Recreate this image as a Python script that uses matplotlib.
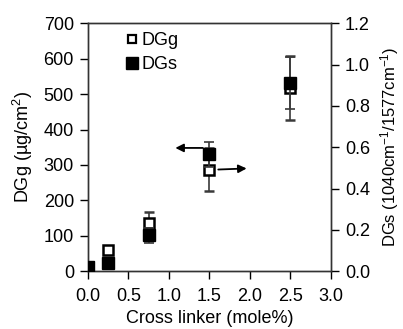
import matplotlib
matplotlib.use("Agg")
import matplotlib.pyplot as plt
from matplotlib.lines import Line2D

plt.rcParams['font.family'] = ['Liberation Sans', 'DejaVu Sans']
plt.rcParams['mathtext.fontset'] = 'custom'
plt.rcParams['mathtext.rm'] = 'Liberation Sans'
plt.rcParams['mathtext.it'] = 'Liberation Sans'

cross_linker = [0.0, 0.25, 0.75, 1.5, 2.5]
dgg = [12, 61, 136, 287, 517]
dgg_err = [0, 0, 31, 62, 91]
dgs = [0.021, 0.037, 0.173, 0.566, 0.912]
dgs_err = [0, 0, 0.036, 0.06, 0.125]

fig = plt.figure(figsize=(4.03, 3.29), dpi=100)
ax1 = fig.add_axes([0.218, 0.176, 0.603, 0.753])
ax2 = ax1.twinx()

ecol = '#3a3a3a'
ax1.errorbar(cross_linker, dgg, yerr=dgg_err, fmt='s', ms=7, mfc='white', mec='black',
             mew=1.8, ecolor=ecol, elinewidth=1.2, capsize=3.5, capthick=1.2, zorder=3)
ax2.errorbar(cross_linker, dgs, yerr=dgs_err, fmt='s', ms=8, mfc='black', mec='black',
             ecolor=ecol, elinewidth=1.2, capsize=3.5, capthick=1.2, zorder=3)

ax1.set_xlim(0, 3.0)
ax1.set_ylim(0, 700)
ax2.set_ylim(0, 1.2)
ax1.set_xticks([0, 0.5, 1.0, 1.5, 2.0, 2.5, 3.0])
ax1.set_xticklabels(['0.0', '0.5', '1.0', '1.5', '2.0', '2.5', '3.0'])
ax1.set_yticks(range(0, 701, 100))
ax2.set_yticks([0, 0.2, 0.4, 0.6, 0.8, 1.0, 1.2])
ax2.set_yticklabels(['0.0', '0.2', '0.4', '0.6', '0.8', '1.0', '1.2'])

for ax in (ax1, ax2):
    ax.tick_params(direction='out', length=6, width=1, labelsize=13, colors='black', pad=4)
    for s in ax.spines.values():
        s.set_linewidth(1.0)
        s.set_color('#333333')
ax1.tick_params(axis='x', pad=6)

ax1.set_xlabel('Cross linker (mole%)', fontsize=13, labelpad=4)
ax1.set_ylabel('DGg (µg/cm$^2$)', fontsize=13, labelpad=6)
ax2.set_ylabel('DGs (1040cm$^{-1}$/1577cm$^{-1}$)', fontsize=12, labelpad=6)

# arrows indicating axes
ax1.annotate('', xy=(1.08, 348), xytext=(1.42, 348),
             arrowprops=dict(arrowstyle='-|>', color='black', lw=1.3, mutation_scale=12,
                             shrinkA=0, shrinkB=0))
ax1.annotate('', xy=(1.96, 290), xytext=(1.61, 287),
             arrowprops=dict(arrowstyle='-|>', color='black', lw=1.3, mutation_scale=12,
                             shrinkA=0, shrinkB=0))

handles = [Line2D([], [], ls='none', marker='s', ms=6, mfc='white', mec='black', mew=1.6),
           Line2D([], [], ls='none', marker='s', ms=8, mfc='black', mec='black')]
ax1.legend(handles, ['DGg', 'DGs'], loc='upper left', bbox_to_anchor=(0.09, 1.02),
           frameon=False, fontsize=13, handletextpad=0.0, labelspacing=0.4,
           handlelength=1.0, borderaxespad=0.35)

fig.savefig('out.png', dpi=100)
